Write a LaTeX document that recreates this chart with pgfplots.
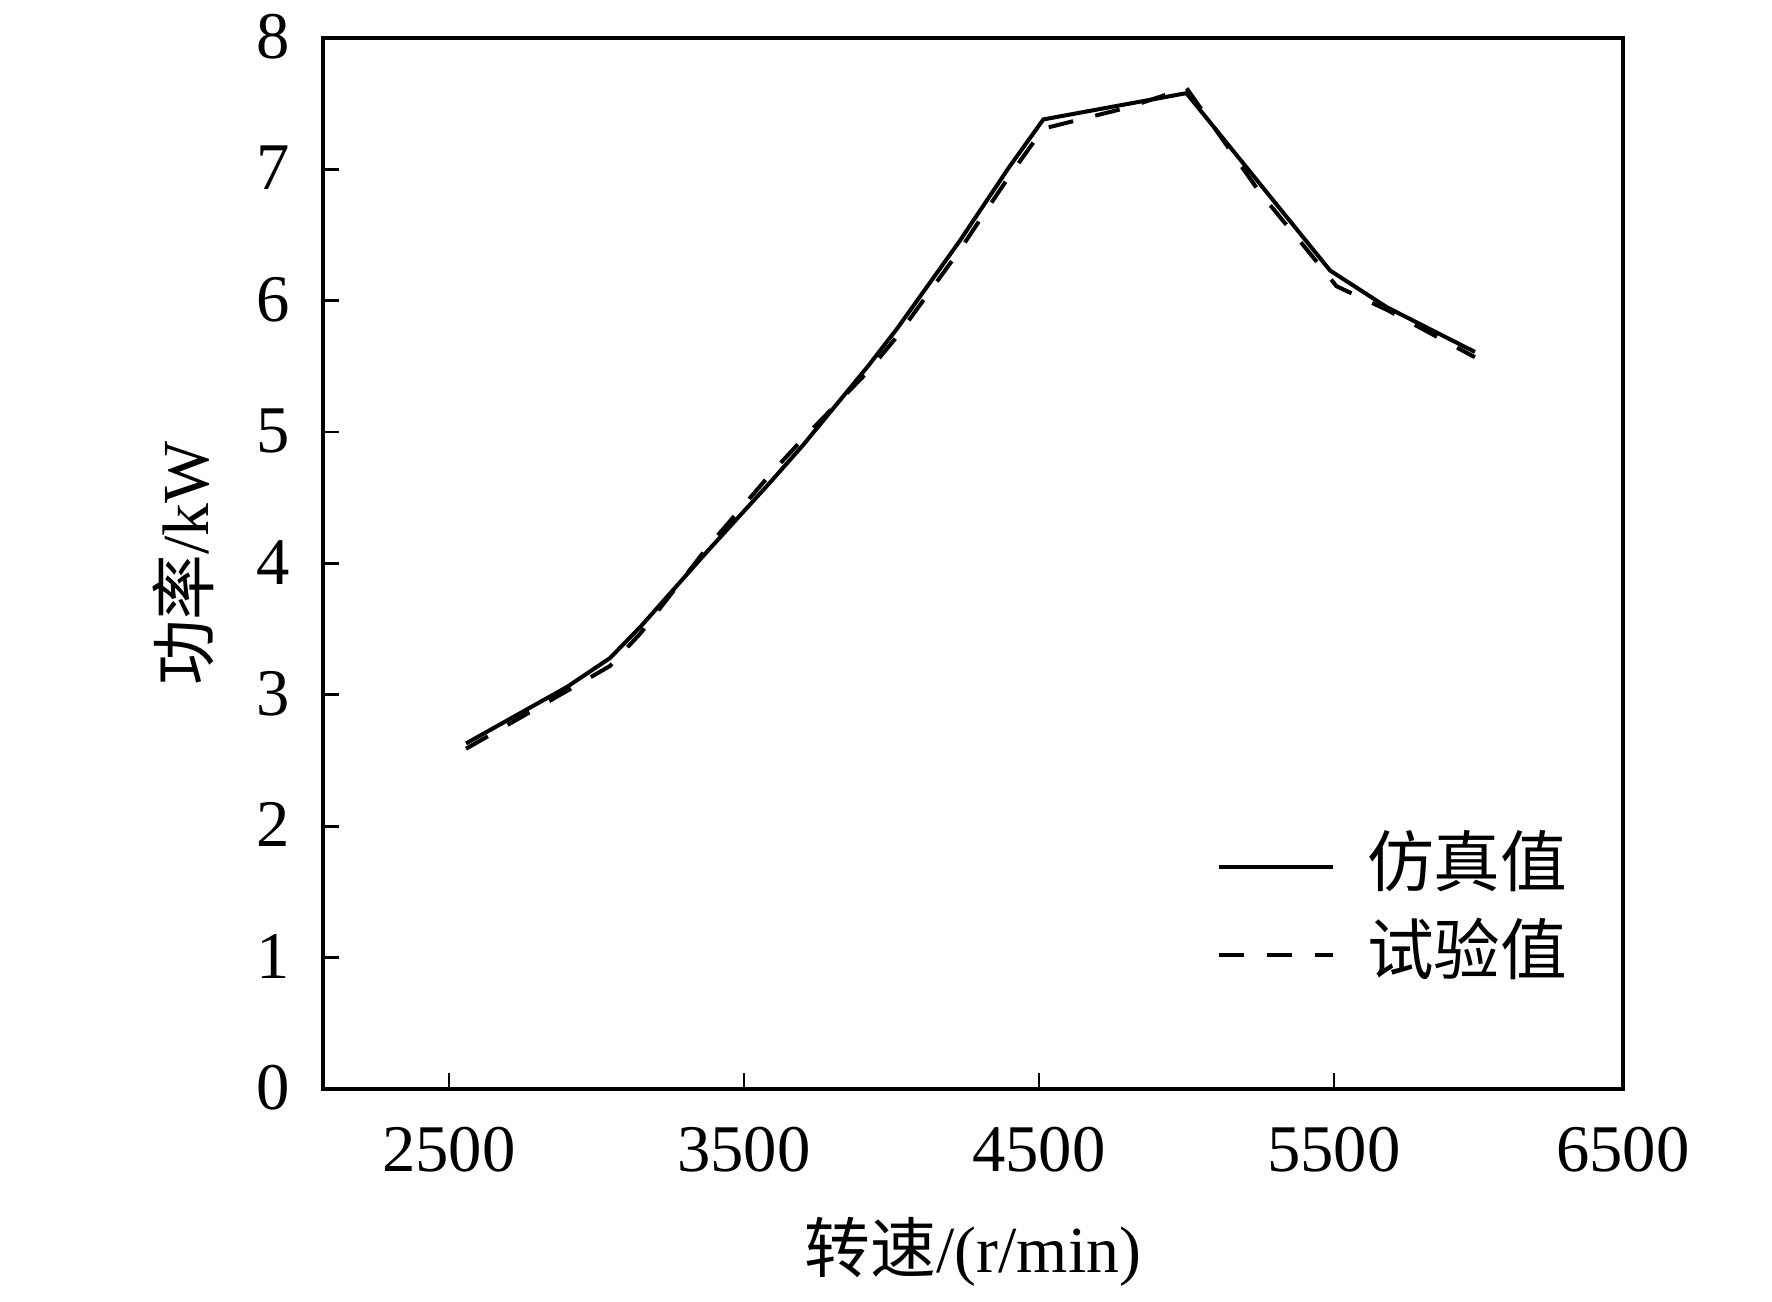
\documentclass[border=0pt]{standalone}
\usepackage{fontspec}
\setmainfont{Liberation Serif}
\newfontfamily\cjk{Noto Sans CJK SC}
\usepackage{pgfplots}
\pgfplotsset{compat=1.18}
\usetikzlibrary{calc}
\begin{document}
\begin{tikzpicture}
\begin{axis}[
  name=a,
  scale only axis,
  width=284.65pt, height=230.13pt,
  xmin=2073, xmax=6480,
  ymin=0, ymax=8,
  xtick={2500,3500,4500,5500,6480},
  xticklabels={2500,3500,4500,5500,6500},
  ytick={0,1,2,3,4,5,6,7,8},
  tick pos=left,
  tick align=inside,
  major tick length=3.6pt,
  axis line style={line width=0.75pt},
  tick style={line width=0.6pt, black},
  /pgf/number format/assume math mode=true,
  /pgf/number format/1000 sep={},
  ticklabel style={font=\fontsize{14.6}{17}\selectfont},
  xticklabel style={anchor=base, inner sep=0pt, yshift=-18.1pt},
  yticklabel style={anchor=east, inner sep=0pt, xshift=-7pt, yshift=0.3pt},
  xlabel={{\cjk 转速}/(r/min)},
  ylabel={{\cjk 功率}/kW},
  label style={font=\fontsize{14.4}{17}\selectfont},
  xlabel style={at={(axis description cs:0.5,-0.1743)}, anchor=base},
  ylabel style={at={(axis description cs:-0.1078,0.5)}, anchor=center, rotate=0},
  legend style={draw=none, fill=none, at={(0.687,0.175)}, anchor=west,
    font=\fontsize{14.6}{17}\selectfont\cjk, inner sep=0pt, row sep=5.3pt,
    nodes={inner xsep=7pt, inner ysep=0pt, text height=12.5pt, text depth=1.5pt}},
  legend cell align=left,
  legend image code/.code={\draw[#1] (0pt,-1.3pt) -- (25pt,-1.3pt);},
  clip=false,
]
\addplot[black, line width=0.88pt] coordinates {
  (2558,2.63) (2900,3.06) (3046,3.28) (3150,3.52) (3375,4.09) (3590,4.62)
  (3700,4.90) (3920,5.50) (4020,5.79) (4230,6.45) (4400,7.02) (4515,7.38)
  (5000,7.58) (5487,6.23) (5680,5.95) (5978,5.61)
};
\addlegendentry{仿真值}
\addplot[black, line width=0.88pt, dash pattern=on 5.5pt off 5pt] coordinates {
  (2558,2.59) (2900,3.03) (3046,3.22) (3150,3.47) (3375,4.12) (3590,4.68)
  (3700,4.95) (3920,5.46) (4020,5.73) (4230,6.38) (4400,6.95) (4515,7.31)
  (4800,7.47) (5000,7.62) (5250,6.82) (5408,6.39) (5509,6.11) (5680,5.93)
  (5978,5.57)
};
\addlegendentry{试验值}
\draw[line width=1.05pt] (rel axis cs:0,0) -- (rel axis cs:1,0);
\end{axis}
\path ($(a.south west)+(-70.72pt,-44.67pt)$) ($(a.north east)+(32.63pt,8.32pt)$);
\end{tikzpicture}
\end{document}
